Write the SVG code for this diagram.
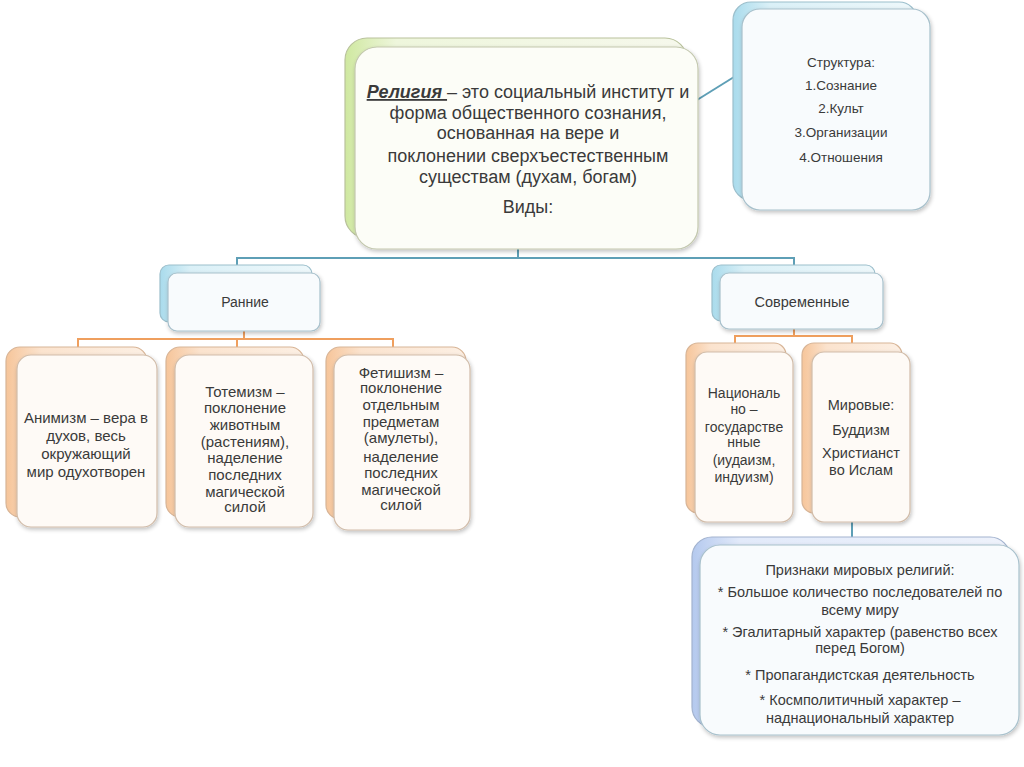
<svg xmlns="http://www.w3.org/2000/svg" width="1024" height="767" viewBox="0 0 1024 767">
<defs>
<linearGradient id="gGreen" x1="0" y1="0" x2="1" y2="0"><stop offset="0" stop-color="#cfe8a0"/><stop offset="0.15" stop-color="#eef6dc"/><stop offset="1" stop-color="#f6f8ec"/></linearGradient>
<linearGradient id="gBlue" x1="0" y1="0" x2="1" y2="0"><stop offset="0" stop-color="#a9dbec"/><stop offset="0.2" stop-color="#daf0f7"/><stop offset="1" stop-color="#eef8fb"/></linearGradient>
<linearGradient id="gBlue2" x1="0" y1="0" x2="1" y2="0"><stop offset="0" stop-color="#b4c9ee"/><stop offset="0.15" stop-color="#e2eafa"/><stop offset="1" stop-color="#eef2fb"/></linearGradient>
<linearGradient id="gOrange" x1="0" y1="0" x2="1" y2="0"><stop offset="0" stop-color="#f6c59a"/><stop offset="0.25" stop-color="#fbe3ce"/><stop offset="1" stop-color="#fcefe3"/></linearGradient>
<filter id="sh" x="-10%" y="-10%" width="130%" height="130%"><feGaussianBlur in="SourceAlpha" stdDeviation="2"/><feOffset dx="1" dy="2"/><feComponentTransfer><feFuncA type="linear" slope="0.25"/></feComponentTransfer><feMerge><feMergeNode/><feMergeNode in="SourceGraphic"/></feMerge></filter>
</defs>
<style>
text{font-family:"Liberation Sans",Arial,sans-serif;fill:#3a3a3a;text-anchor:middle}
.back-g{fill:url(#gGreen);stroke:#b9c29c;stroke-width:1.2}
.front-g{fill:#fcfdf7;stroke:#c3c8ae;stroke-width:1.2}
.back-b{fill:url(#gBlue);stroke:#9cbfcc;stroke-width:1.2}
.back-b2{fill:url(#gBlue2);stroke:#a3b3cf;stroke-width:1.2}
.front-b{fill:#f8fbfd;stroke:#a8c1cc;stroke-width:1.2}
.back-o{fill:url(#gOrange);stroke:#d8b597;stroke-width:1.2}
.front-o{fill:#fefaf6;stroke:#d1bca9;stroke-width:1.2}
.cb{fill:none;stroke:#5e9fb6;stroke-width:2}
.co{fill:none;stroke:#ef9f5e;stroke-width:2}
.t18{font-size:18px}
.t13{font-size:13.5px}
.t14{font-size:14px}
.t145{font-size:14.5px}
.t15{font-size:15px}
</style>
<rect width="1024" height="767" fill="#ffffff"/>

<g id="connectors">
<line class="cb" x1="697" y1="100" x2="742" y2="72"/>
<polyline class="cb" points="518,249 518,258"/>
<polyline class="cb" points="237,266 237,258 794,258 794,266"/>
<polyline class="co" points="244,331 244,339"/>
<polyline class="co" points="78,348 78,339 393,339 393,348"/>
<polyline class="co" points="237,339 237,348"/>
<polyline class="co" points="794,329 794,336"/>
<polyline class="co" points="735,344 735,336 852,336 852,344"/>
<polyline class="cb" points="852,522 852,546"/>
</g>

<g id="main">
<rect class="back-g" x="345" y="38" width="342" height="200" rx="22"/>
<rect class="front-g" x="355" y="47" width="343" height="202" rx="22" filter="url(#sh)"/>
<text class="t18" x="528" y="98"><tspan font-weight="bold" font-style="italic" text-decoration="underline">Религия </tspan>– это социальный институт и</text>
<text class="t18" x="528" y="119">форма общественного сознания,</text>
<text class="t18" x="528" y="139">основанная на вере и</text>
<text class="t18" x="528" y="162">поклонении сверхъестественным</text>
<text class="t18" x="528" y="183">существам (духам, богам)</text>
<text class="t18" x="528" y="213">Виды:</text>
</g>

<g id="structure">
<rect class="back-b" x="733" y="2" width="184" height="198" rx="18"/>
<rect class="front-b" x="742" y="9" width="188" height="201" rx="18" filter="url(#sh)"/>
<text class="t13" x="841" y="67">Структура:</text>
<text class="t13" x="841" y="90">1.Сознание</text>
<text class="t13" x="841" y="113">2.Культ</text>
<text class="t13" x="841" y="137">3.Организации</text>
<text class="t13" x="841" y="162">4.Отношения</text>
</g>

<g id="early">
<rect class="back-b" x="160" y="265" width="152" height="57" rx="9"/>
<rect class="front-b" x="168" y="273" width="152" height="58" rx="9" filter="url(#sh)"/>
<text class="t14" x="245" y="307">Ранние</text>
</g>

<g id="modern">
<rect class="back-b" x="712" y="265" width="163" height="56" rx="9"/>
<rect class="front-b" x="720" y="273" width="163" height="56" rx="9" filter="url(#sh)"/>
<text class="t145" x="802" y="307">Современные</text>
</g>

<g id="animism">
<rect class="back-o" x="6" y="347" width="141" height="170" rx="14"/>
<rect class="front-o" x="17" y="355" width="140" height="172" rx="14" filter="url(#sh)"/>
<text class="t15" x="86" y="423">Анимизм – вера в</text>
<text class="t15" x="86" y="441">духов, весь</text>
<text class="t15" x="86" y="459">окружающий</text>
<text class="t15" x="86" y="477">мир одухотворен</text>
</g>

<g id="totemism">
<rect class="back-o" x="166" y="347" width="138" height="170" rx="14"/>
<rect class="front-o" x="175" y="355" width="138" height="172" rx="14" filter="url(#sh)"/>
<text class="t15" x="245" y="397">Тотемизм –</text>
<text class="t15" x="245" y="413">поклонение</text>
<text class="t15" x="245" y="430">животным</text>
<text class="t15" x="245" y="447">(растениям),</text>
<text class="t15" x="245" y="463">наделение</text>
<text class="t15" x="245" y="480">последних</text>
<text class="t15" x="245" y="497">магической</text>
<text class="t15" x="245" y="512">силой</text>
</g>

<g id="fetishism">
<rect class="back-o" x="326" y="347" width="140" height="172" rx="14"/>
<rect class="front-o" x="334" y="355" width="136" height="175" rx="14" filter="url(#sh)"/>
<text class="t15" x="401" y="378">Фетишизм –</text>
<text class="t15" x="401" y="393">поклонение</text>
<text class="t15" x="401" y="410">отдельным</text>
<text class="t15" x="401" y="427">предметам</text>
<text class="t15" x="401" y="443">(амулеты),</text>
<text class="t15" x="401" y="462">наделение</text>
<text class="t15" x="401" y="478">последних</text>
<text class="t15" x="401" y="495">магической</text>
<text class="t15" x="401" y="510">силой</text>
</g>

<g id="national">
<rect class="back-o" x="686" y="343" width="100" height="170" rx="12"/>
<rect class="front-o" x="695" y="352" width="98" height="170" rx="12" filter="url(#sh)"/>
<text class="t14" x="744" y="398">Националь</text>
<text class="t14" x="744" y="414">но –</text>
<text class="t14" x="744" y="432">государстве</text>
<text class="t14" x="744" y="447">нные</text>
<text class="t14" x="744" y="465">(иудаизм,</text>
<text class="t14" x="744" y="482">индуизм)</text>
</g>

<g id="world">
<rect class="back-o" x="802" y="343" width="100" height="170" rx="12"/>
<rect class="front-o" x="812" y="352" width="98" height="170" rx="12" filter="url(#sh)"/>
<text class="t145" x="861" y="410">Мировые:</text>
<text class="t145" x="861" y="435">Буддизм</text>
<text class="t145" x="861" y="458">Христианст</text>
<text class="t145" x="861" y="475">во Ислам</text>
</g>

<g id="signs">
<rect class="back-b2" x="692" y="537" width="318" height="190" rx="20"/>
<rect class="front-b" x="700" y="545" width="319" height="190" rx="20" filter="url(#sh)"/>
<text class="t145" x="860" y="575">Признаки мировых религий:</text>
<text class="t145" x="860" y="597">* Большое количество последователей по</text>
<text class="t145" x="860" y="615">всему миру</text>
<text class="t145" x="860" y="637">* Эгалитарный характер (равенство всех</text>
<text class="t145" x="860" y="653">перед Богом)</text>
<text class="t145" x="860" y="680">* Пропагандистская деятельность</text>
<text class="t145" x="860" y="705">* Космполитичный характер –</text>
<text class="t145" x="860" y="723">наднациональный характер</text>
</g>
</svg>
